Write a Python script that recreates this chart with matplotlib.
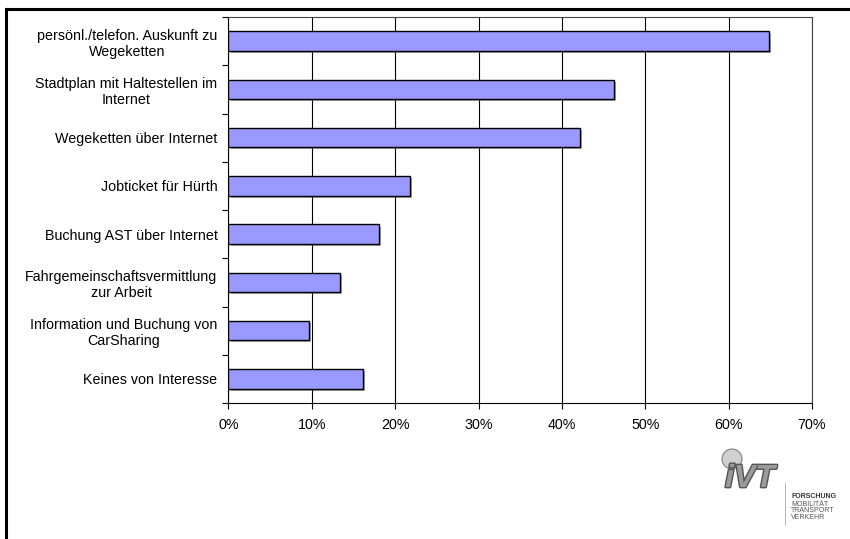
import numpy as np
import matplotlib.pyplot as plt
import matplotlib.patheffects as pe
from matplotlib.lines import Line2D
from matplotlib.patches import Circle
from matplotlib.ticker import FixedLocator, PercentFormatter

plt.rcParams["font.family"] = ["Liberation Sans", "DejaVu Sans"]

# categories top to bottom, share of respondents in %
categories = [
    "persönl./telefon. Auskunft zu\nWegeketten",
    "Stadtplan mit Haltestellen im\nInternet",
    "Wegeketten über Internet",
    "Jobticket für Hürth",
    "Buchung AST über Internet",
    "Fahrgemeinschaftsvermittlung\nzur Arbeit",
    "Information und Buchung von\nCarSharing",
    "Keines von Interesse",
]
shares = [64.8, 46.2, 42.2, 21.8, 18.0, 13.4, 9.7, 16.1]
xticks = [0, 10, 20, 30, 40, 50, 60, 70]

W, H = 850, 539
fig = plt.figure(figsize=(W / 100, H / 100), dpi=100)
ax = fig.add_axes([228.5 / W, 1 - 403 / H, (812 - 228.5) / W, (403 - 17) / H])

n = len(categories)
ypos = np.arange(n)[::-1]
bars = ax.barh(ypos, shares, height=0.4, color="#9999ff", edgecolor="black",
               linewidth=1.0, zorder=3)
for b in bars:
    b.set_path_effects([pe.SimplePatchShadow(offset=(1.5, -1.5), shadow_rgbFace="#555555", alpha=0.5),
                        pe.Normal()])

ax.set_xlim(0, 70)
ax.set_ylim(-0.5, n - 0.5)
ax.xaxis.set_major_locator(FixedLocator(xticks))
ax.xaxis.set_major_formatter(PercentFormatter(decimals=0))
ax.grid(axis="x", color="black", linewidth=0.8, zorder=0)

ax.set_yticks(ypos)
ax.set_yticklabels(categories, multialignment="center")
ax.set_yticks(np.arange(n + 1) - 0.5, minor=True)
ax.tick_params(axis="y", which="major", length=0, pad=8, labelsize=10.3)
ax.tick_params(axis="y", which="minor", length=4, width=0.8, direction="out")
ax.tick_params(axis="x", length=4, width=0.8, direction="out", pad=7, labelsize=10.3)

for s in ax.spines.values():
    s.set_linewidth(0.8)
    s.set_color("black")
ax.spines["top"].set_color("#444444")
ax.spines["right"].set_color("#444444")

# page frame
fig.add_artist(Line2D([6 / W, 1], [1 - 9 / H, 1 - 9 / H], color="black", linewidth=2.2))
fig.add_artist(Line2D([6 / W, 6 / W], [0, 1 - 9 / H], color="black", linewidth=2.2))

# institute logo
fig.text(750 / W, 1 - 479 / H, "iVT", fontsize=23, fontweight="bold", style="italic",
         color="#9a9a9a", ha="center", va="center",
         path_effects=[pe.withStroke(linewidth=2, foreground="#555555")])
fig.add_artist(Circle((7.32, (H - 459) / 100), 0.1, transform=fig.dpi_scale_trans,
                      facecolor="#d0d0d0", edgecolor="#808080", linewidth=0.8))
fig.add_artist(Line2D([785 / W, 785 / W], [1 - 525 / H, 1 - 483 / H], color="#aaaaaa", linewidth=0.6))
fig.text(791 / W, 1 - 497 / H, "FORSCHUNG", fontsize=5, fontweight="bold", color="#333333", va="center")
for i, word in enumerate(["MOBILITÄT", "TRANSPORT", "VERKEHR"]):
    fig.text(791 / W, 1 - (504.5 + 6.5 * i) / H, word, fontsize=5, color="#555555", va="center")

fig.savefig("out.png", dpi=100)
